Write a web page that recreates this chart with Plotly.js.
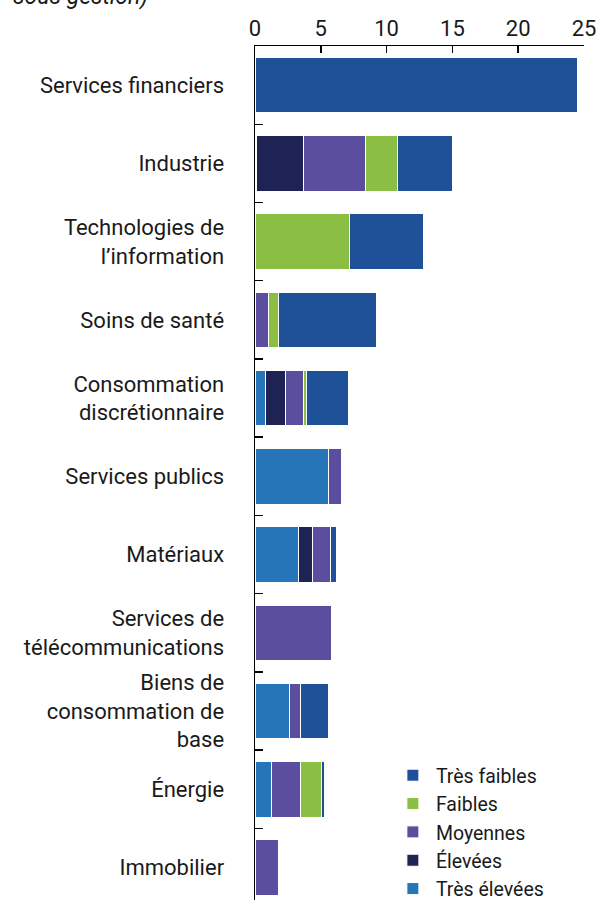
<!DOCTYPE html>
<html>
<head>
<meta charset="utf-8">
<script src="https://cdn.plot.ly/plotly-3.0.1.min.js"></script>
<style>html,body{margin:0;padding:0;background:#fff;}#chart{width:602px;height:900px;}</style>
</head>
<body>
<div id="chart"></div>
<script>
const categories = [
  "Services financiers",
  "Industrie",
  "Technologies de<br>l’information",
  "Soins de santé",
  "Consommation<br>discrétionnaire",
  "Services publics",
  "Matériaux",
  "Services de<br>télécommunications",
  "Biens de<br>consommation de<br>base",
  "Énergie",
  "Immobilier"
];
const tresElevees = [0, 0.14, 0, 0, 0.76, 5.59, 3.31, 0, 2.59, 1.29, 0];
const elevees     = [0, 3.51, 0, 0, 1.52, 0, 1.08, 0, 0, 0, 0];
const moyennes    = [0, 4.74, 0, 1.06, 1.37, 1.0, 1.31, 5.8, 0.87, 2.13, 1.79];
const faibles     = [0, 2.42, 7.21, 0.76, 0.30, 0, 0, 0, 0, 1.6, 0];
const tresFaibles = [24.47, 4.23, 5.63, 7.45, 3.12, 0, 0.48, 0, 2.11, 0.28, 0];
const seriesNames = ["Très élevées", "Élevées", "Moyennes", "Faibles", "Très faibles"];
const seriesColors = ["#2675b9", "#1f2354", "#5b4e9e", "#8abf44", "#1f5199"];
const xTicks = [0, 5, 10, 15, 20, 25];

const allSeries = [tresElevees, elevees, moyennes, faibles, tresFaibles];
const traces = allSeries.map((vals, i) => ({
  type: "bar",
  orientation: "h",
  name: seriesNames[i],
  y: categories,
  x: vals,
  marker: {color: seriesColors[i], line: {color: "#ffffff", width: 1}},
  hoverinfo: "x+name"
}));

const fam = "Roboto, 'DejaVu Sans', sans-serif";
const txt = "#1a1a1a";

const layout = {
  width: 602, height: 900,
  margin: {l: 255, r: 18, t: 46, b: 0, autoexpand: false},
  paper_bgcolor: "#ffffff",
  plot_bgcolor: "#ffffff",
  font: {family: fam, size: 22, color: txt},
  barmode: "stack",
  bargap: 0.29,
  showlegend: true,
  legend: {
    x: 0.41, xanchor: "left", y: 0.1686, yanchor: "top",
    traceorder: "reversed",
    bgcolor: "rgba(0,0,0,0)",
    font: {family: fam, size: 19.5, color: txt},
    itemwidth: 36,
    tracegroupgap: 0
  },
  xaxis: {
    side: "top",
    range: [0, 25],
    tickvals: xTicks,
    ticktext: xTicks.map(String),
    showgrid: false,
    zeroline: false,
    showline: true,
    linecolor: "#000000",
    linewidth: 1.5,
    ticks: "inside",
    ticklen: 7,
    tickcolor: "#000000",
    tickwidth: 1.5,
    tickfont: {family: fam, size: 22, color: txt},
    fixedrange: true
  },
  yaxis: {
    type: "category",
    categoryorder: "array",
    categoryarray: categories,
    range: [10.414, -0.5],
    showgrid: false,
    zeroline: false,
    showline: true,
    linecolor: "#000000",
    linewidth: 1.5,
    ticks: "inside",
    tickson: "boundaries",
    ticklen: 8,
    tickcolor: "#000000",
    tickwidth: 1.5,
    ticklabelstandoff: 25,
    tickfont: {family: fam, size: 22, color: txt},
    fixedrange: true
  },
  annotations: [{
    text: "sous gestion)",
    xref: "paper", yref: "paper",
    x: -0.742, xanchor: "left",
    y: 1.058, yanchor: "middle",
    showarrow: false,
    font: {family: fam, size: 23, style: "italic", color: txt}
  }]
};

Plotly.newPlot("chart", traces, layout, {displayModeBar: false, staticPlot: true});
</script>
</body>
</html>
